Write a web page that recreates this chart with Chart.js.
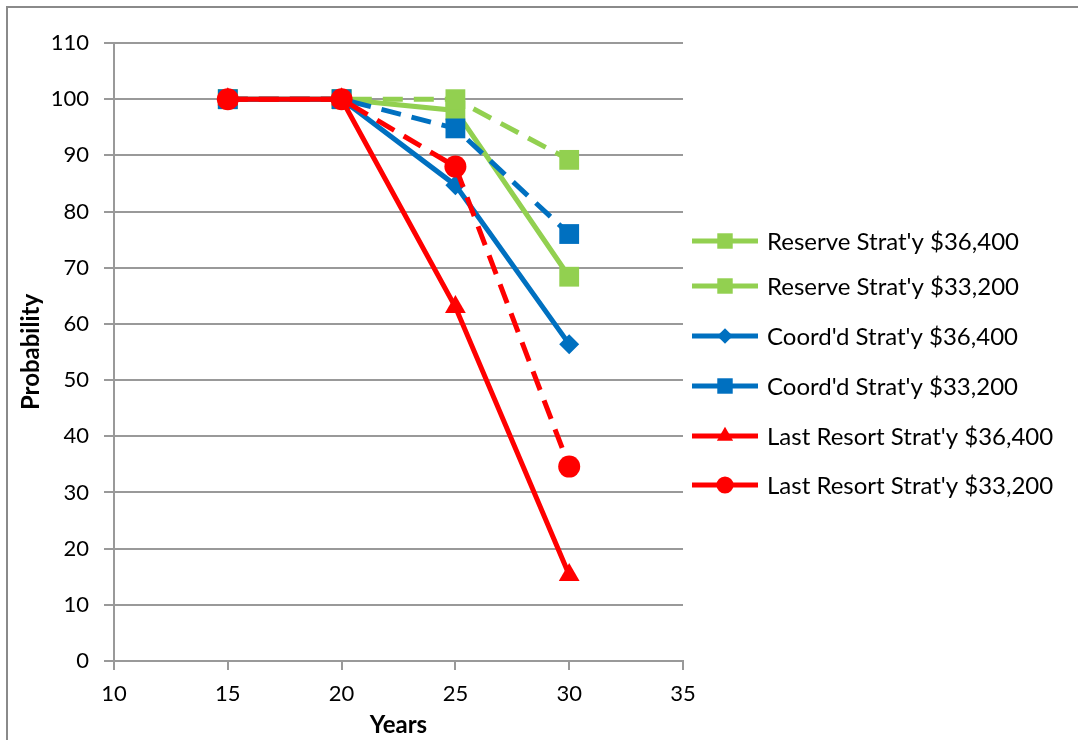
<!DOCTYPE html>
<html>
<head>
<meta charset="utf-8">
<script src="https://cdn.jsdelivr.net/npm/chart.js@4.4.0/dist/chart.umd.min.js"></script>
<style>
  html, body { margin: 0; padding: 0; background: #fff; }
  #wrap { position: relative; width: 1078px; height: 740px; }
</style>
</head>
<body>
<div id="wrap"><canvas id="chart" width="1078" height="740"></canvas></div>
<script>
// x values (years) shared by every series
const years = [15, 20, 25, 30];

// series values
const reserve36400 = [100, 100, 98, 68.4];
const reserve33200 = [100, 100, 100, 89.2];
const coord36400 = [100, 100, 84.7, 56.4];
const coord33200 = [100, 100, 94.8, 76];
const lastResort36400 = [100, 100, 63, 15.3];
const lastResort33200 = [100, 100, 88, 34.6];

const seriesNames = [
    "Reserve Strat'y $36,400",
    "Reserve Strat'y $33,200",
    "Coord'd Strat'y $36,400",
    "Coord'd Strat'y $33,200",
    "Last Resort Strat'y $36,400",
    "Last Resort Strat'y $33,200"
];

// axis ranges / ticks
const xMin = 10, xMax = 35, xStep = 5;
const yMin = 0, yMax = 110, yStep = 10;

const green = '#92d050';
const blue = '#0070c0';
const red = '#ff0000';
const gridColor = '#999999';
const font = 'Lato';

function toPoints(vals) {
    return years.map((x, i) => ({ x: x, y: vals[i] }));
}

// style of each series (same order as the names)
const styles = [
    { color: green, dash: [], point: 'rect', r: 14 },
    { color: green, dash: [20, 11], point: 'rect', r: 14 },
    { color: blue, dash: [], point: 'rectRot', r: 10 },
    { color: blue, dash: [20, 11], point: 'rect', r: 14 },
    { color: red, dash: [], point: 'triangle', r: 12 },
    { color: red, dash: [20, 11], point: 'circle', r: 11 }
];
const allValues = [reserve36400, reserve33200, coord36400, coord33200, lastResort36400, lastResort33200];

const datasets = allValues.map((vals, i) => ({
    label: seriesNames[i],
    data: toPoints(vals),
    borderColor: styles[i].color,
    backgroundColor: styles[i].color,
    borderWidth: 5,
    borderDash: styles[i].dash,
    pointStyle: styles[i].point,
    pointRadius: styles[i].r,
    pointHoverRadius: styles[i].r,
    pointBorderWidth: 0,
    tension: 0,
    order: allValues.length - i   // later series on top, like Excel
}));

// frame round the picture (top + left edge only are visible)
const framePlugin = {
    id: 'frame',
    beforeDraw(chart) {
        const ctx = chart.ctx;
        ctx.save();
        ctx.fillStyle = '#fff';
        ctx.fillRect(0, 0, chart.width, chart.height);
        ctx.strokeStyle = '#8a8a8a';
        ctx.lineWidth = 2;
        ctx.beginPath();
        ctx.moveTo(7, 740);
        ctx.lineTo(7, 7);
        ctx.lineTo(1078, 7);
        ctx.stroke();
        ctx.restore();
    }
};

// Excel style legend: line with the marker on it, then the label
const legendPlugin = {
    id: 'excelLegend',
    afterDraw(chart) {
        const ctx = chart.ctx;
        const rows = [241, 286, 336, 386, 436, 485];
        ctx.save();
        ctx.font = '24px ' + font;
        ctx.textBaseline = 'middle';
        styles.forEach((s, i) => {
            const y = rows[i];
            ctx.strokeStyle = s.color;
            ctx.lineWidth = 5;
            ctx.setLineDash([]);
            ctx.beginPath();
            ctx.moveTo(692, y);
            ctx.lineTo(758, y);
            ctx.stroke();
            ctx.fillStyle = s.color;
            Chart.helpers.drawPoint(ctx, {
                pointStyle: s.point,
                radius: s.r * 0.78,
                rotation: 0,
                borderWidth: 0
            }, 725, y);
            ctx.fillStyle = '#000';
            ctx.fillText(seriesNames[i], 767, y + 1);
        });
        ctx.restore();
    }
};

const config = {
    type: 'line',
    data: { datasets: datasets },
    options: {
        responsive: false,
        animation: false,
        devicePixelRatio: 1,
        layout: { padding: { left: 0, top: 43, right: 1078 - 683, bottom: 0 } },
        plugins: {
            legend: { display: false },
            tooltip: { enabled: false }
        },
        scales: {
            x: {
                type: 'linear',
                min: xMin,
                max: xMax,
                ticks: { stepSize: xStep, color: '#000', font: { family: font, size: 22 }, padding: 11 },
                grid: { drawOnChartArea: false, color: gridColor, lineWidth: 2, tickLength: 9 },
                border: { color: gridColor, width: 2 },
                title: { display: true, text: 'Years', color: '#000', font: { family: font, size: 24, weight: 'bold' }, padding: { top: 0, bottom: 0 } },
                afterFit(scale) { scale.height = 740 - 661; }
            },
            y: {
                min: yMin,
                max: yMax,
                ticks: { stepSize: yStep, color: '#000', font: { family: font, size: 22 }, padding: 15 },
                grid: { color: gridColor, lineWidth: 2, tickLength: 10 },
                border: { color: gridColor, width: 2 },
                title: { display: true, text: 'Probability', color: '#000', font: { family: font, size: 24, weight: 'bold' }, padding: { top: 17, bottom: 0 } },
                afterFit(scale) { scale.width = 114; }
            }
        }
    },
    plugins: [framePlugin, legendPlugin]
};

new Chart(document.getElementById('chart'), config);
</script>
</body>
</html>
